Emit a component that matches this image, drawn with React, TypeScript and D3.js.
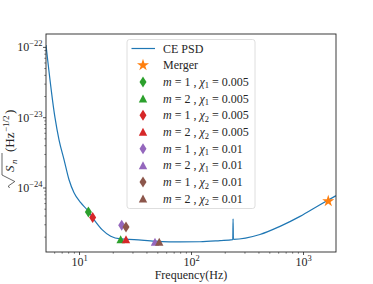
import * as d3 from "d3"

// CE PSD curve
const psdFreq = [5.02, 6.04, 6.56, 7.28, 8.06, 8.93, 10.25, 11.67, 13.47, 15.9, 19.0, 23.3, 30.7, 47.2, 78.9, 119, 179.5, 233.5, 235, 236.5, 408, 617, 931, 1403, 1950]
const psdAsd = [1.08e-22, 1.0e-23, 4.84e-24, 2.52e-24, 1.31e-24, 8.57e-25, 6.18e-25, 4.92e-25, 3.55e-25, 2.56e-25, 2.06e-25, 1.89e-25, 1.85e-25, 1.76e-25, 1.71e-25, 1.72e-25, 1.79e-25, 1.85e-25, 3.63e-25, 1.86e-25, 2.18e-25, 2.85e-25, 3.95e-25, 5.79e-25, 7.78e-25]

const mergerFreq = 1663
const mergerAsd = 6.5e-25

// mode markers: m, chi label, chi value
const modeColors = ["#2ca02c", "#2ca02c", "#d62728", "#d62728", "#9467bd", "#9467bd", "#8c564b", "#8c564b"]
const modeM = [1, 2, 1, 2, 1, 2, 1, 2]
const modeChiIdx = [1, 1, 2, 2, 1, 1, 2, 2]
const modeChi = ["0.005", "0.005", "0.005", "0.005", "0.01", "0.01", "0.01", "0.01"]
const modeFreq = [12.0, 23.3, 13.1, 26.0, 23.8, 47.2, 26.0, 51.5]
const modeAsd = [4.57e-25, 1.86e-25, 3.8e-25, 1.86e-25, 2.95e-25, 1.71e-25, 2.8e-25, 1.71e-25]

const xMajor = [10, 100, 1000]
const yMajor = [1e-24, 1e-23, 1e-22]

const W = 373
const H = 284
const left = 46, right = 336, top = 34, bottom = 252
const font = "'Liberation Serif', serif"
const fs = 12
const fsSup = 8.5

const diamond = "M0,-5.5L3.5,0L0,5.5L-3.5,0Z"
const tri = "M0,-4.2L4.2,3.8L-4.2,3.8Z"
const star = d3.symbol(d3.symbolStar, 45)() as string

export default function App() {
  const x = d3.scaleLog().domain([5.02, 1950]).range([left, right])
  const y = d3.scaleLog().domain([1.23e-25, 1.55e-22]).range([bottom, top])

  const xMinor: number[] = []
  for (const dec of [1, 10, 100, 1000]) for (let k = 2; k <= 9; k++) {
    const v = dec * k
    if (v >= 5.02 && v <= 1950 && !xMajor.includes(v)) xMinor.push(v)
  }
  const yMinor: number[] = []
  for (const dec of [1e-25, 1e-24, 1e-23]) for (let k = 2; k <= 9; k++) {
    const v = dec * k
    if (v >= 1.23e-25 && v <= 1.55e-22) yMinor.push(v)
  }

  const line = d3.line<number>()
    .x((_, i) => x(psdFreq[i]))
    .y(d => y(d))
    .curve(d3.curveMonotoneX)

  const legX = 127, legY = 39.5, legW = 128, legH = 169
  const rowY = (i: number) => 48.5 + 16.7 * i
  const ink = "#262626"

  return (
    <svg width={W} height={H} style={{ position: "fixed", left: 0, top: 0, background: "#fff" }} fontFamily={font}>
      <rect width={W} height={H} fill="#fff" />
      <defs>
        <clipPath id="ax"><rect x={left} y={top} width={right - left} height={bottom - top} /></clipPath>
      </defs>
      <g clipPath="url(#ax)">
        <path d={line(psdAsd) as string} fill="none" stroke="#1f77b4" strokeWidth={1.2} />
      </g>
      {modeFreq.map((f, i) => (
        <path key={i} d={modeM[i] === 1 ? diamond : tri} transform={`translate(${x(f)},${y(modeAsd[i])})`} fill={modeColors[i]} />
      ))}
      <path d={star} transform={`translate(${x(mergerFreq)},${y(mergerAsd)})`} fill="#ff7f0e" />

      {/* axes frame */}
      <rect x={left} y={top} width={right - left} height={bottom - top} fill="none" stroke={ink} strokeWidth={0.9} />

      {/* x ticks */}
      {xMajor.map(v => (
        <g key={v} transform={`translate(${x(v)},${bottom})`}>
          <line y2={3} stroke={ink} strokeWidth={0.8} />
          <text y={13.5} fontSize={fs} textAnchor="middle" fill={ink}>10<tspan fontSize={fsSup} dy={-5}>{Math.round(Math.log10(v))}</tspan></text>
        </g>
      ))}
      {xMinor.map(v => (
        <line key={v} x1={x(v)} x2={x(v)} y1={bottom} y2={bottom + 1.7} stroke={ink} strokeWidth={0.6} />
      ))}

      {/* y ticks */}
      {yMajor.map(v => (
        <g key={v} transform={`translate(${left},${y(v)})`}>
          <line x2={-3} stroke={ink} strokeWidth={0.8} />
          <text x={-3.5} y={4} fontSize={fs} textAnchor="end" fill={ink}>10<tspan fontSize={fsSup} dy={-5}>{"\u2212" + Math.abs(Math.round(Math.log10(v)))}</tspan></text>
        </g>
      ))}
      {yMinor.map(v => (
        <line key={v} x1={left} x2={left - 1.7} y1={y(v)} y2={y(v)} stroke={ink} strokeWidth={0.6} />
      ))}

      {/* axis labels */}
      <text x={(left + right) / 2} y={279} fontSize={fs} textAnchor="middle" fill={ink}>Frequency(Hz)</text>
      <g transform="translate(14,148) rotate(-90)" fill={ink}>
        <path d="M-40,-4.5L-38,-5.7L-33.5,0.8L-27,-12L-5,-12" fill="none" stroke={ink} strokeWidth={0.7} />
        <text fontSize={13}>
          <tspan x={-24} y={0} fontStyle="italic">S</tspan>
          <tspan x={-16} y={2.5} fontStyle="italic" fontSize={9}>n</tspan>
          <tspan x={-4} y={0}>(Hz</tspan>
          <tspan x={16} y={-5.5} fontSize={9}>−1/2</tspan>
          <tspan x={34} y={0}>)</tspan>
        </text>
      </g>

      {/* legend */}
      <rect x={legX} y={legY} width={legW} height={legH} rx={2.5} fill="#fff" fillOpacity={0.8} stroke="#d6d6d6" strokeWidth={0.8} />
      <line x1={131.5} x2={155} y1={rowY(0)} y2={rowY(0)} stroke="#1f77b4" strokeWidth={1.2} />
      <text x={163} y={rowY(0) + 4} fontSize={fs} fill={ink}>CE PSD</text>
      <path d={star} transform={`translate(143,${rowY(1)})`} fill="#ff7f0e" />
      <text x={163} y={rowY(1) + 4} fontSize={fs} fill={ink}>Merger</text>
      {modeM.map((m, i) => (
        <g key={i}>
          <path d={m === 1 ? diamond : tri} transform={`translate(143,${rowY(i + 2)})`} fill={modeColors[i]} />
          <text x={163} y={rowY(i + 2) + 4} fontSize={fs} fill={ink}>
            <tspan fontStyle="italic">m</tspan> = {m} , <tspan fontStyle="italic">χ</tspan><tspan fontSize={fsSup} dy={2.5}>{modeChiIdx[i]}</tspan><tspan dy={-2.5}> = {modeChi[i]}</tspan>
          </text>
        </g>
      ))}
    </svg>
  )
}
